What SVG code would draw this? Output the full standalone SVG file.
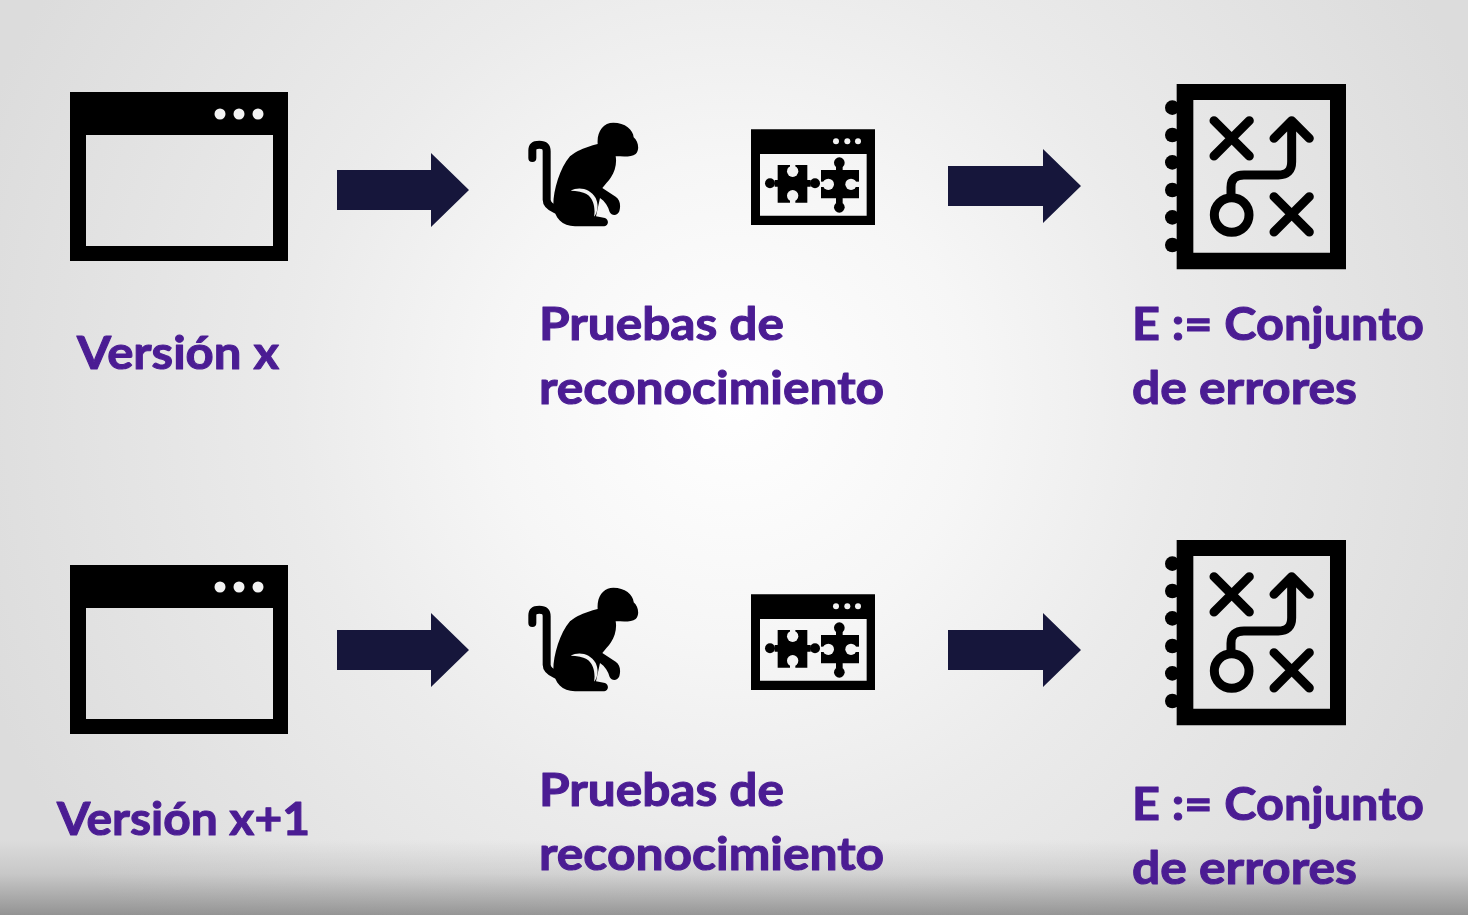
<svg xmlns="http://www.w3.org/2000/svg" xmlns:xlink="http://www.w3.org/1999/xlink" width="1468" height="915" viewBox="0 0 1468 915">
<style>
.lbl{font-family:"Lato","Open Sans","Liberation Sans",sans-serif;font-weight:700;font-size:46px;fill:#4b1c93;stroke:#4b1c93;stroke-width:1.1px;stroke-linejoin:round}
.conn{fill:#14153a}
.ink{fill:#000}
.gap{fill:#f3f3f3}
.line{fill:none;stroke:#000;stroke-linecap:round;stroke-linejoin:round}
</style>
<defs>
<filter id="soft" filterUnits="userSpaceOnUse" x="0" y="0" width="1468" height="915"><feGaussianBlur stdDeviation="0.6"/></filter>
<radialGradient id="bg" gradientUnits="userSpaceOnUse" cx="734" cy="400" r="800">
<stop offset="0" stop-color="#ffffff"/><stop offset="0.3" stop-color="#f6f6f6"/><stop offset="0.55" stop-color="#ebebeb"/><stop offset="1" stop-color="#dcdcdc"/>
</radialGradient>
<linearGradient id="shade" x1="0" y1="0" x2="0" y2="1">
<stop offset="0" stop-color="#777" stop-opacity="0"/><stop offset="0.45" stop-color="#777" stop-opacity="0.2"/><stop offset="1" stop-color="#777" stop-opacity="0.72"/>
</linearGradient>
<g id="window">
<path class="ink" fill-rule="evenodd" d="M70,92H288V261H70ZM86,135V246H273V135Z"/>
<circle cx="220" cy="114" r="5.5" class="gap"/><circle cx="239" cy="114" r="5.5" class="gap"/><circle cx="258" cy="114" r="5.5" class="gap"/>
</g>
<g id="monkey" transform="translate(525 118) scale(.33333)">
<path class="line" stroke-width="24" d="M22,120V97Q22,80 43,80Q65,80 65,100V245Q65,262 92,274"/>
<path class="ink" d="M218,78C215,40 235,14 265,14C300,14 325,35 326,58C340,70 345,95 332,108C320,118 295,115 272,115C276,135 270,160 258,178C250,190 240,200 232,210L272,236C285,245 288,262 283,280C278,294 260,295 254,282C250,265 240,250 225,240L213,295L240,300C252,305 252,322 238,325H150C112,325 88,300 85,262C85,215 105,150 135,115C160,95 190,85 218,78Z"/>
<path class="gap" d="M137,218C160,205 195,210 212,240C222,262 218,285 207,296C212,270 205,245 190,232C175,222 155,218 137,218Z"/>
</g>
<g id="puzzle" transform="translate(510 100) scale(.33333)">
<path class="ink" fill-rule="evenodd" d="M723,88H1095V375H723ZM750,162V347H1070V162Z"/>
<circle cx="978" cy="124" r="9" class="gap"/><circle cx="1012" cy="124" r="9" class="gap"/><circle cx="1044" cy="124" r="9" class="gap"/>
<g transform="translate(720 150)">
<path class="ink" d="M83,45H172V90H182V110H172V158H83V110H74V90H83Z"/>
<circle class="ink" cx="60" cy="100" r="15"/><circle class="ink" cx="195" cy="100" r="15"/>
<circle class="gap" cx="128" cy="64" r="17"/><rect class="gap" x="120" y="43" width="16" height="12"/>
<circle class="gap" cx="128" cy="137" r="17"/><rect class="gap" x="120" y="148" width="16" height="12"/>
<path class="ink" d="M213,60H258V48H278V60H327V145H278V160H258V145H213Z"/>
<circle class="ink" cx="268" cy="38" r="16"/><circle class="ink" cx="268" cy="172" r="16"/>
<circle class="gap" cx="235" cy="103" r="17"/><rect class="gap" x="211" y="95" width="14" height="16"/>
<circle class="gap" cx="303" cy="103" r="17"/><rect class="gap" x="315" y="95" width="14" height="16"/>
</g>
</g>
<g id="notebook" transform="translate(1150 70) scale(.33333)">
<path class="ink" fill-rule="evenodd" d="M80,42H588V598H80ZM130,90V548H540V90Z"/>
<g class="ink"><circle cx="67" cy="113" r="22"/><circle cx="67" cy="195" r="22"/><circle cx="67" cy="277" r="22"/><circle cx="67" cy="360" r="22"/><circle cx="67" cy="442" r="22"/><circle cx="67" cy="525" r="22"/></g>
<path class="line" stroke-width="27" d="M192,152L298,258M298,152L192,258M372,380L478,486M478,380L372,486M243,380V352Q243,315 282,315H385Q425,315 425,275V155M372,205L425,152L478,205"/>
<circle cx="245" cy="435" r="52" fill="none" stroke="#000" stroke-width="27"/>
</g>
</defs>
<rect width="1468" height="915" fill="url(#bg)"/>
<rect y="840" width="1468" height="75" fill="url(#shade)"/>
<g filter="url(#soft)">
<g id="connectors">
<path class="conn" d="M337,170H431V153L469,190L431,227V210H337Z"/>
<path class="conn" d="M948,166H1043V149L1081,186L1043,223V206H948Z"/>
<path class="conn" d="M337,630H431V613L469,650L431,687V670H337Z"/>
<path class="conn" d="M948,630H1043V613L1081,650L1043,687V670H948Z"/>
</g>
<g id="version-x"><use xlink:href="#window" href="#window"/><text class="lbl" x="77" y="369" textLength="202" lengthAdjust="spacingAndGlyphs">Versión x</text></g>
<g id="pruebas-1"><use xlink:href="#monkey" href="#monkey"/><use xlink:href="#puzzle" href="#puzzle"/><text class="lbl" x="539" y="340" textLength="245" lengthAdjust="spacingAndGlyphs">Pruebas de</text><text class="lbl" x="539" y="404" textLength="345" lengthAdjust="spacingAndGlyphs">reconocimiento</text></g>
<g id="errores-1"><use xlink:href="#notebook" href="#notebook"/><text class="lbl" x="1132" y="340" textLength="292" lengthAdjust="spacingAndGlyphs">E := Conjunto</text><text class="lbl" x="1132" y="404" textLength="225" lengthAdjust="spacingAndGlyphs">de errores</text></g>
<g id="version-x1"><use xlink:href="#window" href="#window" y="473"/><text class="lbl" x="57" y="835" textLength="253" lengthAdjust="spacingAndGlyphs">Versión x+1</text></g>
<g id="pruebas-2"><use xlink:href="#monkey" href="#monkey" y="465"/><use xlink:href="#puzzle" href="#puzzle" y="465"/><text class="lbl" x="539" y="806" textLength="245" lengthAdjust="spacingAndGlyphs">Pruebas de</text><text class="lbl" x="539" y="870" textLength="345" lengthAdjust="spacingAndGlyphs">reconocimiento</text></g>
<g id="errores-2"><use xlink:href="#notebook" href="#notebook" y="456"/><text class="lbl" x="1132" y="820" textLength="292" lengthAdjust="spacingAndGlyphs">E := Conjunto</text><text class="lbl" x="1132" y="884" textLength="225" lengthAdjust="spacingAndGlyphs">de errores</text></g>
</g>
</svg>
